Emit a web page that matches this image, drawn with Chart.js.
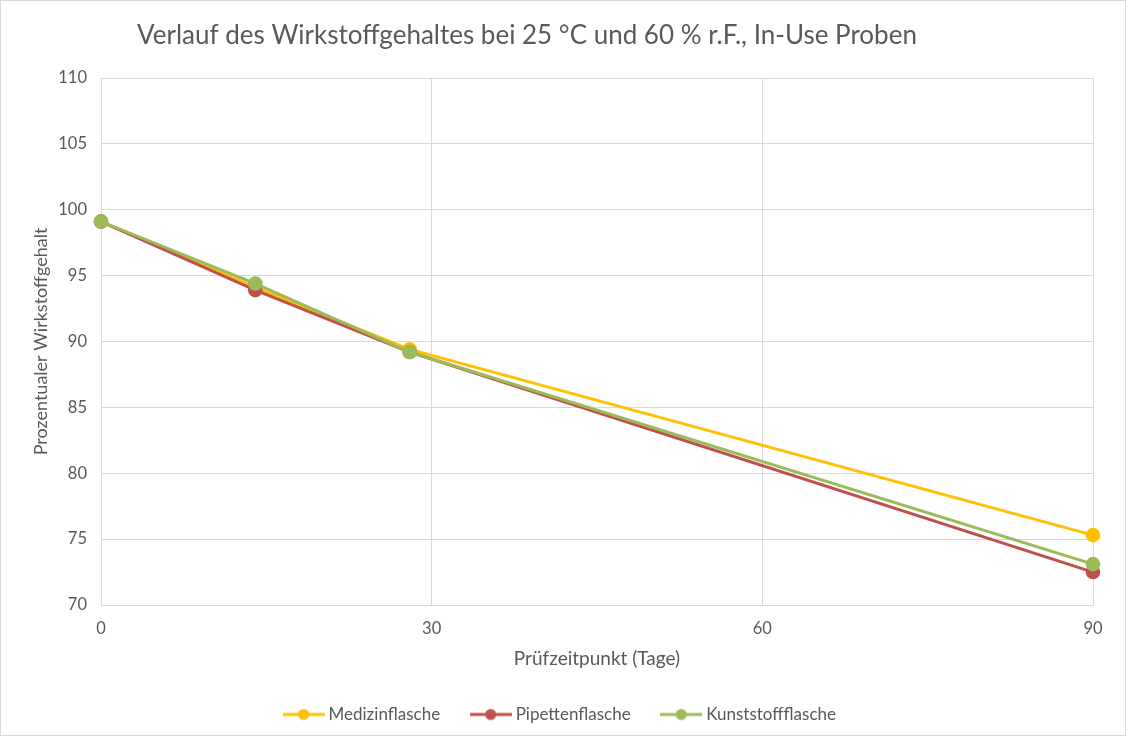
<!DOCTYPE html>
<html>
<head>
<meta charset="utf-8">
<script src="https://cdn.jsdelivr.net/npm/chart.js@4"></script>
<style>
  html, body { margin: 0; padding: 0; background: #fff; }
  #wrap { position: relative; width: 1124px; height: 734px; border: 1px solid #d9d9d9; }
</style>
</head>
<body>
<div id="wrap"><canvas id="c" width="1124" height="734"></canvas></div>
<script>
'use strict';

const days = [0, 14, 28, 90];
const medizin = [99.1, 94.1, 89.4, 75.3];
const pipette = [99.1, 93.9, 89.2, 72.5];
const kunststoff = [99.1, 94.4, 89.2, 73.1];
const xTicks = [0, 30, 60, 90];
const chartTitle = 'Verlauf des Wirkstoffgehaltes bei 25 °C und 60 % r.F., In-Use Proben';

const GREY = '#595959';
const FONT = 'Lato, "Open Sans", sans-serif';

/* legend symbol: short line with a dot in the middle */
function legendMark(color) {
  const cv = document.createElement('canvas');
  cv.width = 42; cv.height = 14;
  const ctx = cv.getContext('2d');
  ctx.strokeStyle = color;
  ctx.lineWidth = 3;
  ctx.beginPath(); ctx.moveTo(0, 7); ctx.lineTo(42, 7); ctx.stroke();
  ctx.fillStyle = color;
  ctx.beginPath(); ctx.arc(21, 7, 5.5, 0, Math.PI * 2); ctx.fill();
  return cv;
}

function series(label, values, color, order) {
  return {
    label: label,
    data: days.map((d, i) => ({ x: d, y: values[i] })),
    borderColor: color,
    backgroundColor: color,
    borderWidth: 3,
    pointRadius: 5.8,
    pointHoverRadius: 5.8,
    tension: 0,
    clip: false,
    order: order,
    legendMark: legendMark(color)
  };
}

/* the title sits a bit left of centre in the original, so draw it by hand */
const titlePlugin = {
  id: 'leftTitle',
  afterDraw(chart) {
    const ctx = chart.ctx;
    ctx.save();
    ctx.font = '26px ' + FONT;
    ctx.fillStyle = GREY;
    ctx.textAlign = 'center';
    ctx.textBaseline = 'middle';
    ctx.fillText(chartTitle, 526, 35);
    ctx.restore();
  }
};

new Chart(document.getElementById('c'), {
  type: 'line',
  data: {
    datasets: [
      series('Medizinflasche', medizin, '#ffc000', 2),
      series('Pipettenflasche', pipette, '#c0504d', 1),
      series('Kunststoffflasche', kunststoff, '#9bbb59', 0)
    ]
  },
  plugins: [titlePlugin],
  options: {
    responsive: false,
    animation: false,
    devicePixelRatio: 1,
    layout: { padding: { left: 29, right: 32, top: 77, bottom: 2 } },
    plugins: {
      tooltip: { enabled: false },
      title: { display: false },
      legend: {
        position: 'bottom',
        labels: {
          color: GREY,
          font: { family: FONT, size: 17 },
          usePointStyle: true,
          pointStyleWidth: 33,
          boxHeight: 14,
          padding: 34,
          generateLabels(chart) {
            return chart.data.datasets.map((ds, i) => ({
              text: ds.label,
              fillStyle: ds.borderColor,
              strokeStyle: ds.borderColor,
              pointStyle: ds.legendMark,
              fontColor: GREY,
              datasetIndex: i
            }));
          }
        }
      }
    },
    scales: {
      x: {
        type: 'linear',
        min: 0,
        max: 90,
        afterBuildTicks(axis) { axis.ticks = xTicks.map(v => ({ value: v })); },
        afterFit(axis) { axis.height = 67; },
        grid: { color: '#d9d9d9', drawTicks: false },
        border: { color: '#d9d9d9' },
        ticks: { color: GREY, font: { family: FONT, size: 16.5 }, padding: 14 },
        title: {
          display: true,
          text: 'Prüfzeitpunkt (Tage)',
          color: GREY,
          font: { family: FONT, size: 19 },
          padding: { top: 0, bottom: 2 }
        }
      },
      y: {
        min: 70,
        max: 110,
        ticks: { stepSize: 5, color: GREY, font: { family: FONT, size: 16.5 }, padding: 14 },
        grid: { color: '#d9d9d9', drawTicks: false },
        border: { display: false },
        afterFit(axis) { axis.width = 71; },
        title: {
          display: true,
          text: 'Prozentualer Wirkstoffgehalt',
          color: GREY,
          font: { family: FONT, size: 18 },
          padding: { top: 0, bottom: 0 }
        }
      }
    }
  }
});
</script>
</body>
</html>
